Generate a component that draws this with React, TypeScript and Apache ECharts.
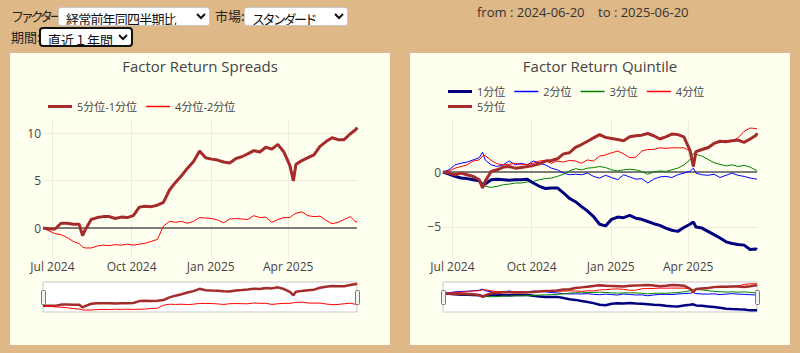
import React, { useEffect, useRef } from "react";
import * as echarts from "echarts";

// ---------- data ----------
const dates = [
  "2024-06-20", "2024-06-27", "2024-07-04", "2024-07-11", "2024-07-18", "2024-07-25", "2024-08-01", "2024-08-05",
  "2024-08-08", "2024-08-15", "2024-08-22", "2024-08-29", "2024-09-05", "2024-09-12", "2024-09-19", "2024-09-26",
  "2024-10-03", "2024-10-10", "2024-10-17", "2024-10-24", "2024-10-31", "2024-11-07", "2024-11-14", "2024-11-21",
  "2024-11-28", "2024-12-05", "2024-12-12", "2024-12-19", "2024-12-26", "2025-01-02", "2025-01-09", "2025-01-16",
  "2025-01-23", "2025-01-30", "2025-02-06", "2025-02-13", "2025-02-20", "2025-02-27", "2025-03-06", "2025-03-13",
  "2025-03-20", "2025-03-27", "2025-04-03", "2025-04-07", "2025-04-10", "2025-04-17", "2025-04-24", "2025-05-01",
  "2025-05-08", "2025-05-15", "2025-05-22", "2025-05-29", "2025-06-05", "2025-06-12", "2025-06-19", "2025-06-20",
];

const spread51 = [
  0, -0.1, -0.1, 0.5, 0.5, 0.4, 0.4, -0.8, -0.2, 0.9, 1.1, 1.2, 1.2, 1.0, 1.15, 1.1, 1.3, 2.2, 2.3, 2.25,
  2.4, 2.7, 4.0, 4.8, 5.5, 6.3, 7.0, 8.1,
  7.4, 7.25, 7.15, 6.95, 6.85, 7.3, 7.5, 7.8, 8.15, 8.0, 8.5, 8.3, 8.8, 8.0, 6.6, 4.95, 6.7, 7.1, 7.4, 7.7,
  8.6, 9.1, 9.5, 9.3, 9.3, 9.9, 10.4, 10.6,
];
const spread42 = [
  0, -0.3, -0.6, -0.7, -1.0, -1.4, -1.65, -2.0, -2.1, -2.1, -1.9, -1.8, -1.85, -1.75, -1.8, -1.7, -1.8, -1.7, -1.6, -1.4,
  -1.2, 0.2, 0.7, 0.6, 0.7, 0.5, 0.7, 1.1,
  1.05, 1.0, 0.85, 0.55, 0.95, 1.0, 0.95, 0.9, 1.3, 1.1, 1.15, 0.6, 0.9, 1.1, 1.1, 1.4, 1.55, 1.7, 1.3, 1.2,
  1.25, 0.8, 0.45, 0.6, 0.9, 1.2, 0.6, 0.75,
];

const q1 = [
  0, -0.2, -0.4, -0.55, -0.6, -0.7, -0.8, -1.15, -1.1, -0.7, -0.65, -0.7, -0.75, -0.7, -0.7, -0.65, -1.0, -1.3, -1.5, -1.45,
  -1.45, -1.9, -2.4, -2.7, -3.15, -3.55, -4.05, -4.75,
  -4.9, -4.3, -4.1, -4.15, -3.95, -4.2, -4.3, -4.5, -4.7, -4.85, -5.1, -5.3, -5.4, -5.05, -4.75, -4.55, -5.0, -5.1, -5.4, -5.7,
  -6.0, -6.35, -6.5, -6.6, -6.65, -7.05, -7.0, -7.05,
];
const q2 = [
  0, 0.2, 0.65, 0.8, 0.9, 1.1, 1.3, 1.8, 1.1, 0.65, 0.5, 0.65, 1.0, 0.65, 0.8, 0.65, 1.0, 0.8, 0.65, 0.35,
  0.2, -0.1, -0.25, -0.2, -0.25, -0.1, -0.4, -0.55,
  -0.3, -0.5, -0.7, -0.25, -0.45, -0.65, -0.6, -1.0, -0.65, -0.45, -0.4, -0.5, -0.25, -0.1, 0.05, 0.35, -0.1, -0.25, -0.3, -0.2,
  -0.5, -0.3, -0.1, -0.3, -0.4, -0.55, -0.65, -0.6,
];
const q3 = [
  0, -0.1, -0.3, -0.5, -0.6, -0.55, -0.7, -1.15, -1.3, -1.4, -1.3, -1.15, -1.1, -1.0, -1.0, -0.9, -0.85, -0.7, -0.6, -0.55,
  -0.4, -0.2, 0.1, 0.3, 0.2, 0.35, 0.4, 0.5,
  0.4, 0.2, 0.1, 0.2, 0.25, 0.2, 0.05, -0.2, 0.0, 0.1, 0.05, 0.2, 0.35, 0.65, 1.1, 1.7, 1.6, 1.45, 1.15, 0.85,
  0.7, 0.55, 0.65, 0.5, 0.6, 0.45, 0.15, 0.05,
];
const q4 = [
  0, 0.1, 0.35, 0.5, 0.65, 1.0, 1.1, 1.45, 1.5, 1.05, 0.75, 0.65, 0.7, 0.8, 0.65, 0.7, 0.8, 1.0, 1.05, 0.8,
  1.0, 0.9, 1.05, 1.0, 0.8, 1.1, 1.0, 1.45,
  1.55, 1.75, 1.9, 1.65, 1.3, 1.35, 1.9, 2.05, 2.05, 2.2, 2.15, 2.2, 2.2, 2.2, 1.9, 0.5, 1.9, 2.1, 2.3, 2.6,
  2.8, 2.85, 2.85, 3.1, 3.7, 4.0, 3.95, 3.9,
];
const q5 = [
  0, -0.1, -0.25, -0.1, -0.25, -0.4, -0.7, -1.45, -0.85, 0.05, 0.2, 0.45, 0.5, 0.35, 0.4, 0.5, 0.6, 0.75, 1.0, 1.05,
  1.2, 1.65, 1.75, 2.25, 2.5, 2.8, 3.1, 3.4,
  3.15, 3.05, 2.95, 2.85, 3.2, 3.3, 3.35, 3.5, 3.3, 3.0, 3.2, 3.45, 3.4, 3.2, 2.0, 0.5, 1.85, 2.05, 2.2, 2.6,
  2.8, 2.75, 2.85, 2.9, 2.7, 3.0, 3.35, 3.55,
];

const xTickDates = ["2024-07-01", "2024-10-01", "2025-01-01", "2025-04-01"];
const xRange = ["2024-06-20", "2025-06-20"];
const spreadTicks = [0, 5, 10];
const spreadRange = [-3.05, 11.37];
const quintileTicks = [-5, 0];
const quintileRange = [-7.73, 4.73];
const MONTHS = ["Jan", "Feb", "Mar", "Apr", "May", "Jun", "Jul", "Aug", "Sep", "Oct", "Nov", "Dec"];

const spreadSeries = [
  { name: "5分位-1分位", values: spread51, color: "#a52a2a", width: 3 },
  { name: "4分位-2分位", values: spread42, color: "#ff0000", width: 1 },
];
const quintileSeries = [
  { name: "1分位", values: q1, color: "#000080", width: 3 },
  { name: "2分位", values: q2, color: "#0000ff", width: 1 },
  { name: "3分位", values: q3, color: "#008000", width: 1 },
  { name: "4分位", values: q4, color: "#ff0000", width: 1 },
  { name: "5分位", values: q5, color: "#a52a2a", width: 3 },
];

// ---------- option builder ----------
const FONT = "'Open Sans', 'Noto Sans CJK JP', sans-serif";
const TXT = "#444";
const t = (s: string) => {
  const [y, m, d] = s.split("-").map(Number);
  return Date.UTC(y, m - 1, d);
};
const THICK_ICON = "path://M0,0H24V3H0Z";
const THIN_ICON = "path://M0,0H24V1.5H0Z";

type Def = { name: string; values: number[]; color: string; width: number };

function buildOption(title: string, defs: Def[], legendRows: string[][], yRange: number[], yTicks: number[]) {
  const xTicks = xTickDates.map(t);
  const legendTop = legendRows.length === 1 ? [48] : [33, 48];
  const byName: Record<string, Def> = {};
  defs.forEach((d) => (byName[d.name] = d));
  const series: any[] = [];
  defs.forEach((d, i) => {
    const data = dates.map((dt, k) => [t(dt), d.values[k]]);
    const main: any = {
      name: d.name,
      type: "line",
      data,
      xAxisIndex: 0,
      yAxisIndex: 0,
      symbol: "none",
      lineStyle: { color: d.color, width: d.width },
      itemStyle: { color: d.color },
      z: d.width > 1 ? 3 : 2,
    };
    if (i === 0) {
      main.markLine = {
        silent: true,
        symbol: ["none", "none"],
        label: { show: false },
        lineStyle: { color: "#555", width: 1.5, type: "solid" },
        data: [{ yAxis: 0 }],
        z: 1,
      };
    }
    series.push(main);
    series.push({
      name: d.name,
      type: "line",
      data,
      xAxisIndex: 1,
      yAxisIndex: 1,
      symbol: "none",
      lineStyle: { color: d.color, width: d.width > 1 ? 2.5 : 1 },
      itemStyle: { color: d.color },
      silent: true,
    });
  });

  return {
    animation: false,
    backgroundColor: "#fffff0",
    title: {
      text: title,
      left: "center",
      top: 5,
      padding: 0,
      textStyle: { fontFamily: FONT, fontSize: 15, fontWeight: "normal", color: TXT },
    },
    legend: legendRows.map((row, r) => ({
      data: row.map((n) => ({
        name: n,
        icon: byName[n].width > 1 ? THICK_ICON : THIN_ICON,
        itemStyle: { color: byName[n].color },
      })),
      left: 38,
      top: legendTop[r],
      padding: 0,
      itemWidth: 24,
      itemHeight: 14,
      itemGap: 9,
      symbolKeepAspect: true,
      textStyle: { fontFamily: FONT, fontSize: 11, color: TXT },
    })),
    grid: [
      { left: 33, top: 67, width: 314, height: 137, containLabel: false },
      {
        left: 33,
        top: 229,
        width: 314,
        height: 30,
        show: true,
        backgroundColor: "#ffffff",
        borderColor: "#c8c8c8",
        borderWidth: 1,
      },
    ],
    xAxis: [
      {
        type: "value",
        gridIndex: 0,
        min: t(xRange[0]),
        max: t(xRange[1]),
        axisLine: { show: false },
        axisTick: { show: false, customValues: xTicks },
        splitLine: { show: true, lineStyle: { color: "#ececdc", width: 1 } },
        axisLabel: {
          customValues: xTicks,
          margin: 3,
          fontFamily: FONT,
          fontSize: 12,
          color: TXT,
          formatter: (v: number) => {
            const d = new Date(v);
            return MONTHS[d.getUTCMonth()] + " " + d.getUTCFullYear();
          },
        },
      },
      {
        type: "value",
        gridIndex: 1,
        min: t(xRange[0]),
        max: t(xRange[1]),
        show: false,
        splitLine: { show: false },
      },
    ],
    yAxis: [
      {
        type: "value",
        gridIndex: 0,
        min: yRange[0],
        max: yRange[1],
        axisLine: { show: false },
        axisTick: { show: false, customValues: yTicks },
        splitLine: { show: true, lineStyle: { color: "#ececdc", width: 1 } },
        axisLabel: {
          customValues: yTicks,
          margin: 2,
          fontFamily: FONT,
          fontSize: 12,
          color: TXT,
          formatter: (v: number) => (v < 0 ? "\u2212" + Math.abs(v) : String(v)),
        },
      },
      {
        type: "value",
        gridIndex: 1,
        min: yRange[0],
        max: yRange[1],
        show: false,
        splitLine: { show: false },
      },
    ],
    graphic: [
      {
        type: "rect",
        left: 31,
        top: 237,
        shape: { width: 4, height: 14, r: 1 },
        style: { fill: "#f2f2f2", stroke: "#777", lineWidth: 1 },
        z: 10,
      },
      {
        type: "rect",
        left: 345,
        top: 237,
        shape: { width: 4, height: 14, r: 1 },
        style: { fill: "#f2f2f2", stroke: "#777", lineWidth: 1 },
        z: 10,
      },
    ],
    series,
  };
}

function Chart({ option, style }: { option: any; style: React.CSSProperties }) {
  const ref = useRef<HTMLDivElement>(null);
  useEffect(() => {
    if (!ref.current) return;
    const chart = echarts.init(ref.current, undefined, { renderer: "svg" });
    chart.setOption(option);
    return () => chart.dispose();
  }, [option]);
  return <div ref={ref} style={style} />;
}

const spreadOption = buildOption("Factor Return Spreads", spreadSeries, [["5分位-1分位", "4分位-2分位"]], spreadRange, spreadTicks);
const quintileOption = buildOption(
  "Factor Return Quintile",
  quintileSeries,
  [["1分位", "2分位", "3分位", "4分位"], ["5分位"]],
  quintileRange,
  quintileTicks
);

const JP = "'Noto Sans CJK JP', sans-serif";
const selectBase: React.CSSProperties = {
  position: "absolute",
  fontFamily: JP,
  fontSize: 13,
  color: "#111",
  background: "#fff",
  border: "1px solid #c8c8c8",
  borderRadius: 3,
  padding: "0 0 0 3px",
  margin: 0,
  boxSizing: "border-box",
};
const labelBase: React.CSSProperties = {
  position: "absolute",
  fontFamily: JP,
  fontSize: 13,
  color: "#222",
  lineHeight: "18px",
  whiteSpace: "nowrap",
};

export default function App() {
  return (
    <div
      style={{
        position: "fixed",
        left: 0,
        top: 0,
        width: 800,
        height: 353,
        background: "#deb887",
        overflow: "hidden",
      }}
    >
      <span style={{ ...labelBase, left: 11, top: 7, letterSpacing: -3.2 }}>ファクター:</span>
      <select
        style={{ ...selectBase, left: 58, top: 7, width: 152, height: 19, letterSpacing: -0.8 }}
        defaultValue="a"
      >
        <option value="a">経常前年同四半期比</option>
      </select>
      <span style={{ ...labelBase, left: 215, top: 7 }}>市場:</span>
      <select style={{ ...selectBase, left: 244, top: 7, width: 104, height: 19, letterSpacing: -2.5 }} defaultValue="a">
        <option value="a">スタンダード</option>
      </select>
      <span style={{ ...labelBase, left: 11, top: 28 }}>期間:</span>
      <select
        style={{ ...selectBase, left: 39, top: 27, width: 94, height: 20, border: "2px solid #111", borderRadius: 4 }}
        defaultValue="a"
      >
        <option value="a">直近１年間</option>
      </select>
      <span
        style={{
          position: "absolute",
          left: 477,
          top: 3,
          fontFamily: "'Open Sans', sans-serif",
          fontSize: 13,
          color: "#333",
          whiteSpace: "pre",
          lineHeight: "18px",
        }}
      >
        {"from : 2024-06-20    to : 2025-06-20"}
      </span>
      <Chart option={spreadOption} style={{ position: "absolute", left: 10, top: 53, width: 380, height: 292 }} />
      <Chart option={quintileOption} style={{ position: "absolute", left: 410, top: 53, width: 380, height: 292 }} />
    </div>
  );
}
